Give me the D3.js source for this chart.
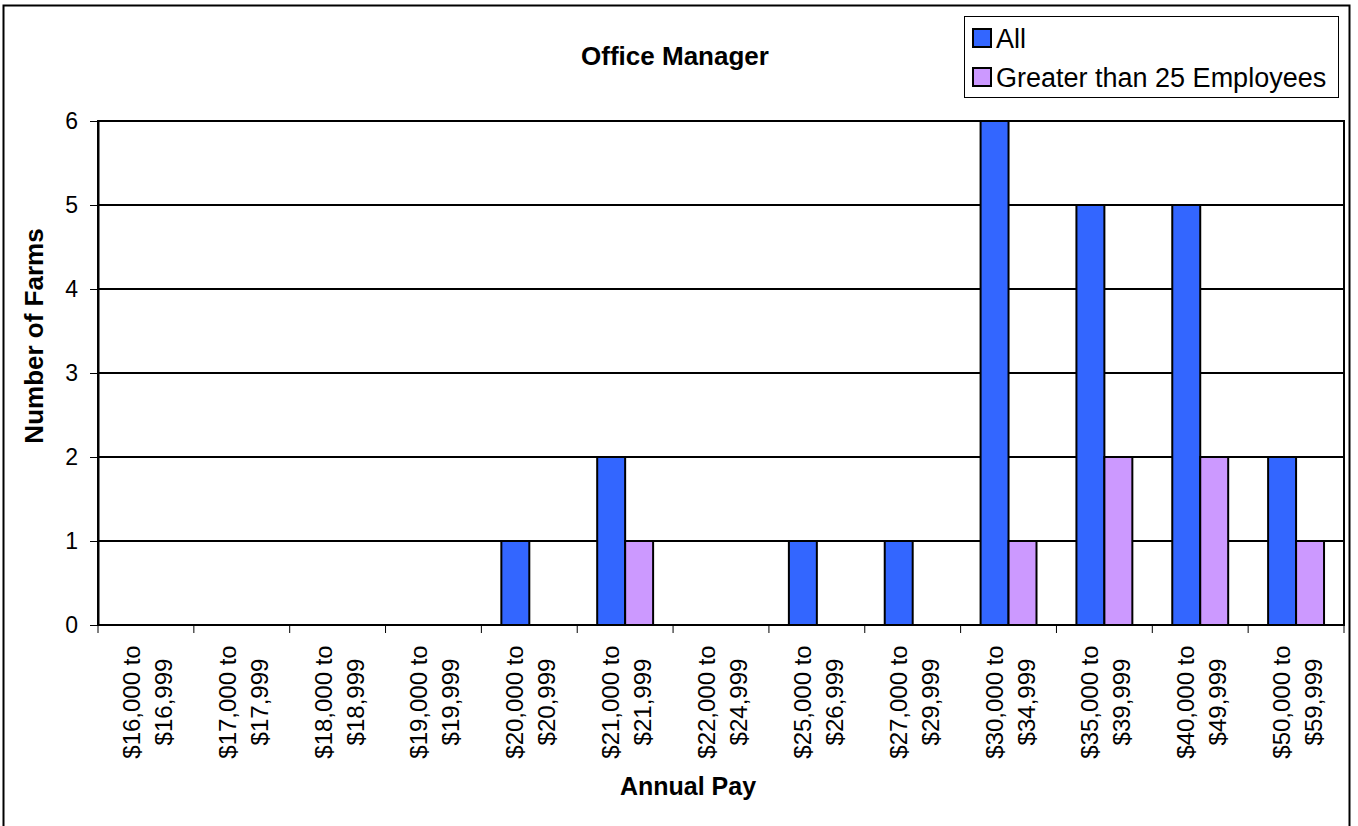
<!DOCTYPE html>
<html>
<head>
<meta charset="utf-8">
<script src="https://cdn.jsdelivr.net/npm/d3@7"></script>
<style>
  body { margin: 0; background: #fff; }
  svg { display: block; font-family: "Liberation Sans", Arial, sans-serif; }
</style>
</head>
<body>
<div id="chart"></div>
<script>
var categories = [
    ["$16,000 to", "$16,999"],
    ["$17,000 to", "$17,999"],
    ["$18,000 to", "$18,999"],
    ["$19,000 to", "$19,999"],
    ["$20,000 to", "$20,999"],
    ["$21,000 to", "$21,999"],
    ["$22,000 to", "$24,999"],
    ["$25,000 to", "$26,999"],
    ["$27,000 to", "$29,999"],
    ["$30,000 to", "$34,999"],
    ["$35,000 to", "$39,999"],
    ["$40,000 to", "$49,999"],
    ["$50,000 to", "$59,999"]
];
var seriesNames = ["All", "Greater than 25 Employees"];
var allValues = [0, 0, 0, 0, 1, 2, 0, 1, 1, 6, 5, 5, 2];
var largeValues = [0, 0, 0, 0, 0, 1, 0, 0, 0, 1, 2, 2, 1];
var yTicks = [0, 1, 2, 3, 4, 5, 6];
var colors = ["#3366FF", "#CC99FF"];

var width = 1358, height = 826;
var plotLeft = 98, plotRight = 1344, plotTop = 121, plotBottom = 625;

var svg = d3.select("#chart").append("svg")
    .attr("width", width)
    .attr("height", height);

// outer frame
svg.append("rect")
    .attr("x", 3.5).attr("y", 5.5)
    .attr("width", 1346).attr("height", 840)
    .attr("fill", "#fff")
    .attr("stroke", "#000")
    .attr("stroke-width", 2);

var keys = categories.map(function(d) { return d.join(" "); });

var x = d3.scaleBand()
    .domain(keys)
    .range([plotLeft, plotRight])
    .padding(0);

var x1 = d3.scaleBand()
    .domain(seriesNames)
    .range([0, x.bandwidth()])
    .paddingInner(0)
    .paddingOuter(0.714);

var y = d3.scaleLinear()
    .domain([0, 6])
    .range([plotBottom, plotTop]);

// gridlines
svg.append("g")
    .selectAll("line")
    .data(yTicks.filter(function(d) { return d > 0; }))
    .enter().append("line")
    .attr("x1", plotLeft).attr("x2", plotRight)
    .attr("y1", function(d) { return y(d); })
    .attr("y2", function(d) { return y(d); })
    .attr("stroke", "#000")
    .attr("stroke-width", 2);

// bars
var rows = [];
keys.forEach(function(k, i) {
    rows.push({key: k, series: seriesNames[0], value: allValues[i], color: colors[0]});
    rows.push({key: k, series: seriesNames[1], value: largeValues[i], color: colors[1]});
});

svg.append("g")
    .selectAll("rect")
    .data(rows.filter(function(d) { return d.value > 0; }))
    .enter().append("rect")
    .attr("x", function(d) { return x(d.key) + x1(d.series); })
    .attr("y", function(d) { return y(d.value); })
    .attr("width", x1.bandwidth())
    .attr("height", function(d) { return y(0) - y(d.value); })
    .attr("fill", function(d) { return d.color; })
    .attr("stroke", "#000")
    .attr("stroke-width", 2);

// plot frame
svg.append("rect")
    .attr("x", plotLeft).attr("y", plotTop)
    .attr("width", plotRight - plotLeft).attr("height", plotBottom - plotTop)
    .attr("fill", "none")
    .attr("stroke", "#000")
    .attr("stroke-width", 2);

// y axis
var yAxis = svg.append("g")
    .attr("transform", "translate(" + plotLeft + ",0)")
    .call(d3.axisLeft(y)
        .tickValues(yTicks)
        .tickFormat(d3.format("d"))
        .tickSize(8)
        .tickSizeOuter(0)
        .tickPadding(12));
yAxis.attr("font-size", null).attr("font-family", null);
yAxis.select(".domain").attr("stroke", "#000").attr("stroke-width", 2);
yAxis.selectAll(".tick line").attr("stroke", "#000").attr("stroke-width", 1);
yAxis.selectAll(".tick text")
    .style("font-size", "23px")
    .attr("fill", "#000");

// x axis ticks at category boundaries
var bounds = keys.map(function(k) { return x(k); }).concat([plotRight]);
svg.append("g")
    .selectAll("line")
    .data(bounds)
    .enter().append("line")
    .attr("x1", function(d) { return d; })
    .attr("x2", function(d) { return d; })
    .attr("y1", plotBottom).attr("y2", plotBottom + 8)
    .attr("stroke", "#000")
    .attr("stroke-width", 1);

var xl = svg.append("g")
    .selectAll("text")
    .data(categories)
    .enter().append("text")
    .attr("transform", function(d, i) {
        return "translate(" + (x(keys[i]) + x.bandwidth() / 2) + ",702) rotate(-90)";
    })
    .attr("text-anchor", "middle")
    .attr("font-size", 24)
    .attr("fill", "#000");
xl.append("tspan").attr("x", 0).attr("y", -6).text(function(d) { return d[0]; });
xl.append("tspan").attr("x", 0).attr("y", 26).text(function(d) { return d[1]; });

// titles
svg.append("text")
    .attr("x", 675).attr("y", 65)
    .attr("text-anchor", "middle")
    .attr("font-size", 26)
    .attr("font-weight", "bold")
    .text("Office Manager");

svg.append("text")
    .attr("transform", "translate(43,336) rotate(-90)")
    .attr("text-anchor", "middle")
    .attr("font-size", 26)
    .attr("font-weight", "bold")
    .text("Number of Farms");

svg.append("text")
    .attr("x", 688).attr("y", 795)
    .attr("text-anchor", "middle")
    .attr("font-size", 25)
    .attr("font-weight", "bold")
    .text("Annual Pay");

// legend
var legend = svg.append("g");
legend.append("rect")
    .attr("x", 964.5).attr("y", 16.5)
    .attr("width", 374).attr("height", 81)
    .attr("fill", "#fff")
    .attr("stroke", "#000")
    .attr("stroke-width", 1);

var items = legend.selectAll(".item")
    .data(seriesNames)
    .enter().append("g")
    .attr("class", "item")
    .attr("transform", function(d, i) { return "translate(0," + (i * 39) + ")"; });
items.append("rect")
    .attr("x", 973).attr("y", 29)
    .attr("width", 18).attr("height", 18)
    .attr("fill", function(d, i) { return colors[i]; })
    .attr("stroke", "#000")
    .attr("stroke-width", 2);
items.append("text")
    .attr("x", 996).attr("y", 48)
    .attr("font-size", 27)
    .attr("fill", "#000")
    .text(function(d) { return d; });
</script>
</body>
</html>
